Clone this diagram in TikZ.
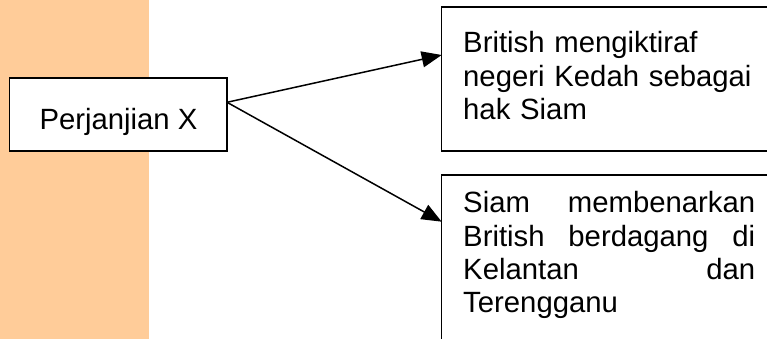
\documentclass[tikz,border=0pt]{standalone}
\usepackage{fontspec}
\setmainfont{Liberation Sans}
\usetikzlibrary{arrows.meta}
\definecolor{peach}{RGB}{255,204,153}
\newcommand\fullline[1]{\makebox[292pt][l]{#1}}
\begin{document}
\begin{tikzpicture}[x=1pt,y=1pt,
  box/.style={draw, fill=white, line width=1.5pt, inner sep=0pt, outer sep=0pt},
  txt/.style={inner sep=0pt, font=\fontsize{29.3}{33.4}\selectfont, align=left},
  conn/.style={line width=1.5pt, -{Triangle[length=20pt,width=16pt]}}]
\useasboundingbox (0,0) rectangle (767,339);
\fill[peach] (0,0) rectangle (149,339);
% boxes
\node[box, minimum width=217.5pt, minimum height=73pt] (A) at (118.25,224.5) {};
\node[box, anchor=north west, minimum width=340pt, minimum height=144pt] (B) at (441.7,332) {};
\node[box, anchor=north west, minimum width=340pt, minimum height=180pt] (C) at (441.7,164) {};
% texts
\node[txt, anchor=base] (At) at (118.5,209) {Perjanjian X};
\node[txt, anchor=base west, text width=292pt] (Bt) at (463,286)
  {British mengiktiraf\\negeri Kedah sebagai\\hak Siam};
\node[txt, anchor=base west, text width=292pt] (Ct) at (463,126.3)
  {\fullline{Siam\hfill membenarkan}\\
   \fullline{British\hfill berdagang\hfill di}\\
   \fullline{Kelantan\hfill dan}\\
   Terengganu};
% connectors
\coordinate (s) at ([yshift=12.2pt]A.east);
\draw[conn] (s) -- ([yshift=-48pt]B.north west);
\draw[conn] (s) -- ([yshift=-46.7pt]C.north west);
\end{tikzpicture}
\end{document}
